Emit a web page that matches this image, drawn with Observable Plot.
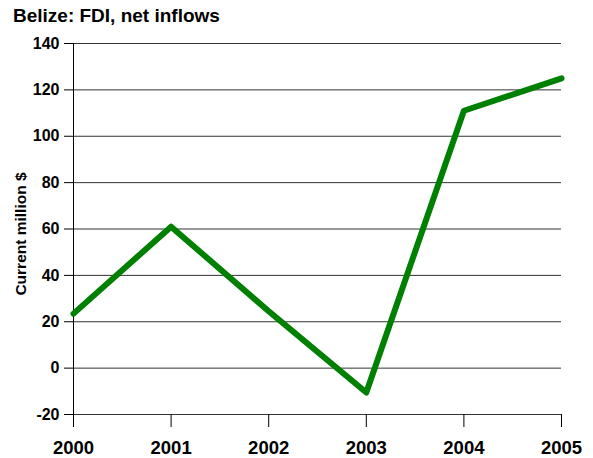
<!DOCTYPE html>
<html><head><meta charset="utf-8">
<script src="https://cdn.jsdelivr.net/npm/d3@7"></script>
<script src="https://cdn.jsdelivr.net/npm/@observablehq/plot@0.6"></script>
<style>
body{margin:0;background:#fff;font-family:"Liberation Sans",Arial,sans-serif;}
#wrap{position:relative;width:593px;height:458px;}
#title{position:absolute;left:13px;top:5px;font-size:19px;font-weight:bold;color:#000;}
</style></head>
<body><div id="wrap"><div id="title">Belize: FDI, net inflows</div></div>
<script>
const years = [2000, 2001, 2002, 2003, 2004, 2005];
const fdi = [23.5, 61, 24.5, -10.5, 111, 125];
const yTicks = [-20, 0, 20, 40, 60, 80, 100, 120, 140];
const yLabel = "Current million $";
const data = years.map((y, i) => ({year: y, value: fdi[i]}));

const chart = Plot.plot({
  width: 593, height: 458,
  marginTop: 43, marginBottom: 44, marginLeft: 73, marginRight: 32,
  style: {fontFamily: "Liberation Sans, Arial, sans-serif", background: "transparent", color: "#000"},
  x: {domain: [2000, 2005], label: null},
  y: {domain: [-20, 140], label: null},
  marks: [
    Plot.ruleY(yTicks, {stroke: "#333", strokeWidth: 1}),
    Plot.ruleX([2000], {stroke: "#000", strokeWidth: 1}),
    Plot.axisY({ticks: yTicks, tickFormat: d => String(d), tickSize: 9, tickPadding: 5, fontWeight: "bold", fontSize: 16, label: null}),
    Plot.axisX({ticks: years, tickFormat: d => String(d), tickSize: 13, tickPadding: 13, fontWeight: "bold", fontSize: 18.5, label: null}),
    Plot.text([yLabel], {frameAnchor: "left", textAnchor: "middle", dx: -52, dy: 5, rotate: -90, fontSize: 15.5, fontWeight: "bold", fill: "#000"}),
    Plot.line(data, {x: "year", y: "value", stroke: "#008000", strokeWidth: 6})
  ]
});
document.getElementById("wrap").appendChild(chart);
chart.style.position = "absolute"; chart.style.left = "0"; chart.style.top = "0";
</script></body></html>
